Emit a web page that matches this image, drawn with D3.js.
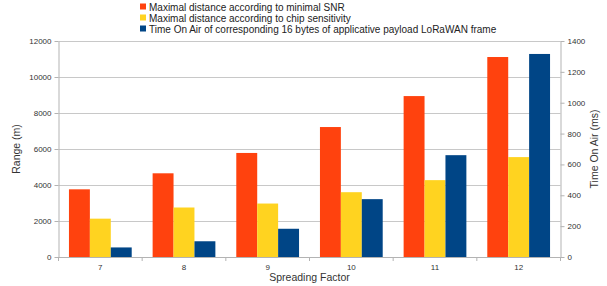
<!DOCTYPE html>
<html>
<head>
<meta charset="utf-8">
<script src="https://cdn.jsdelivr.net/npm/d3@7"></script>
<style>
  body { margin: 0; background: #fff; }
  svg { font-family: "Liberation Sans", Arial, sans-serif; }
  .tick text { fill: #333; font-size: 8px; }
</style>
</head>
<body>
<svg width="607" height="286"></svg>
<script>
var categories = ["7", "8", "9", "10", "11", "12"];
var distSnr = [3760, 4650, 5780, 7220, 8940, 11110];
var distSens = [2130, 2750, 2970, 3600, 4270, 5550];
var timeOnAir = [62, 102, 183, 375, 660, 1316];
var leftTicks = [0, 2000, 4000, 6000, 8000, 10000, 12000];
var rightTicks = [0, 200, 400, 600, 800, 1000, 1200, 1400];
var seriesNames = [
  "Maximal distance according to minimal SNR",
  "Maximal distance according to chip sensitivity",
  "Time On Air of corresponding 16 bytes of applicative payload LoRaWAN frame"
];
var colors = ["#ff420e", "#ffd320", "#004586"];

var svg = d3.select("svg"),
    plotLeft = 58.5, plotRight = 560.5, plotTop = 41, plotBottom = 257;

var x = d3.scaleBand().domain(categories).range([plotLeft, plotRight]);
var xs = d3.scaleBand().domain([0, 1, 2]).range([0, x.bandwidth()]).paddingOuter(0.5);
var yL = d3.scaleLinear().domain([0, 12000]).range([plotBottom, plotTop]);
var yR = d3.scaleLinear().domain([0, 1400]).range([plotBottom, plotTop]);

// gridlines
svg.append("g")
    .selectAll("line")
    .data(leftTicks)
    .enter().append("line")
    .attr("x1", plotLeft).attr("x2", plotRight)
    .attr("y1", function(d) { return Math.round(yL(d)) + 0.5; })
    .attr("y2", function(d) { return Math.round(yL(d)) + 0.5; })
    .attr("stroke", "#c8c8c8");

// bars
var rows = categories.map(function(c, i) {
  return [
    { cat: c, s: 0, y: yL(distSnr[i]) },
    { cat: c, s: 1, y: yL(distSens[i]) },
    { cat: c, s: 2, y: yR(timeOnAir[i]) }
  ];
});
svg.append("g")
    .selectAll("g")
    .data(rows)
    .enter().append("g")
    .attr("transform", function(d) { return "translate(" + x(d[0].cat) + ",0)"; })
    .selectAll("rect")
    .data(function(d) { return d; })
    .enter().append("rect")
    .attr("x", function(d) { return xs(d.s); })
    .attr("width", xs.bandwidth())
    .attr("y", function(d) { return d.y; })
    .attr("height", function(d) { return plotBottom - d.y; })
    .attr("fill", function(d) { return colors[d.s]; });

// axes
function styleAxis(g) {
  g.selectAll(".domain").attr("stroke", "#b3b3b3");
  g.selectAll(".tick line").attr("stroke", "#b3b3b3");
}
svg.append("g")
    .attr("transform", "translate(" + plotLeft + ",0)")
    .call(d3.axisLeft(yL).tickValues(leftTicks).tickSize(4).tickSizeOuter(0).tickFormat(d3.format("d")))
    .call(styleAxis);
svg.append("g")
    .attr("transform", "translate(" + plotRight + ",0)")
    .call(d3.axisRight(yR).tickValues(rightTicks).tickSize(4).tickSizeOuter(0).tickFormat(d3.format("d")))
    .call(styleAxis);

var xAxis = svg.append("g")
    .attr("transform", "translate(0," + plotBottom + ")")
    .call(d3.axisBottom(x).tickSize(0).tickSizeOuter(0).tickPadding(7))
    .call(styleAxis);
// category separators
xAxis.selectAll(".sep")
    .data(categories.concat(["end"]))
    .enter().append("line")
    .attr("x1", function(d, i) { return i < categories.length ? x(d) : plotRight; })
    .attr("x2", function(d, i) { return i < categories.length ? x(d) : plotRight; })
    .attr("y1", 0).attr("y2", 4)
    .attr("stroke", "#b3b3b3");

// axis titles
svg.append("text")
    .attr("transform", "translate(20," + (plotTop + plotBottom) / 2 + ") rotate(-90)")
    .attr("text-anchor", "middle")
    .attr("font-size", 10.5)
    .attr("fill", "#333")
    .text("Range (m)");
svg.append("text")
    .attr("transform", "translate(598," + (plotTop + plotBottom) / 2 + ") rotate(-90)")
    .attr("text-anchor", "middle")
    .attr("font-size", 10.5)
    .attr("fill", "#333")
    .text("Time On Air (ms)");
svg.append("text")
    .attr("x", (plotLeft + plotRight) / 2)
    .attr("y", 281)
    .attr("text-anchor", "middle")
    .attr("font-size", 10.5)
    .attr("fill", "#333")
    .text("Spreading Factor");

// legend
var legend = svg.append("g")
    .selectAll("g")
    .data(seriesNames)
    .enter().append("g")
    .attr("transform", function(d, i) { return "translate(140," + (2 + i * 11) + ")"; });
legend.append("rect")
    .attr("width", 6).attr("height", 6).attr("y", 1.5)
    .attr("fill", function(d, i) { return colors[i]; });
legend.append("text")
    .attr("x", 9).attr("y", 8.5)
    .attr("font-size", 10)
    .attr("fill", "#222")
    .text(function(d) { return d; });
</script>
</body>
</html>
